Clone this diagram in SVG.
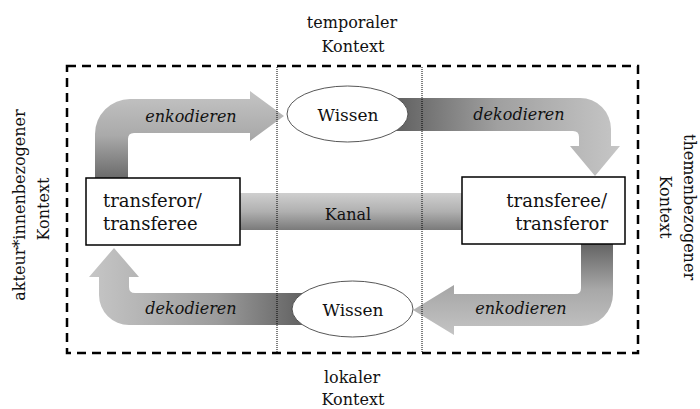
<svg xmlns="http://www.w3.org/2000/svg" width="700" height="409" viewBox="0 0 700 409">
<style>
  .t { font-family: "DejaVu Serif", "Liberation Serif", serif; fill: #111; }
  .box { fill: #fff; stroke: #000; stroke-width: 1.5; }
  .ell { fill: #fff; stroke: #444; stroke-width: 0.9; }
  .it { font-style: italic; font-size: 16px; }
  .lbl { font-size: 16px; }
  .bx { font-size: 18px; }
</style>
<defs>
  <linearGradient id="gA1" gradientUnits="userSpaceOnUse" x1="0" y1="180" x2="0" y2="91">
    <stop offset="0" stop-color="#686868"/>
    <stop offset="0.5" stop-color="#aaaaaa"/>
    <stop offset="1" stop-color="#c4c4c4"/>
  </linearGradient>
  <linearGradient id="gA2" gradientUnits="userSpaceOnUse" x1="398" y1="0" x2="620" y2="0">
    <stop offset="0" stop-color="#626262"/>
    <stop offset="0.45" stop-color="#a0a0a0"/>
    <stop offset="1" stop-color="#c6c6c6"/>
  </linearGradient>
  <linearGradient id="gA3" gradientUnits="userSpaceOnUse" x1="0" y1="244" x2="0" y2="335">
    <stop offset="0" stop-color="#646464"/>
    <stop offset="0.5" stop-color="#a8a8a8"/>
    <stop offset="1" stop-color="#c4c4c4"/>
  </linearGradient>
  <linearGradient id="gA4" gradientUnits="userSpaceOnUse" x1="302" y1="0" x2="89" y2="0">
    <stop offset="0" stop-color="#626262"/>
    <stop offset="0.4" stop-color="#9c9c9c"/>
    <stop offset="1" stop-color="#c6c6c6"/>
  </linearGradient>
  <linearGradient id="gK" x1="0" y1="0" x2="0" y2="1">
    <stop offset="0" stop-color="#cfcfcf"/>
    <stop offset="0.5" stop-color="#b0b0b0"/>
    <stop offset="1" stop-color="#7a7a7a"/>
  </linearGradient>
</defs>

<g id="frame">
  <rect x="67" y="66" width="571" height="287" fill="none" stroke="#000" stroke-width="2.5" stroke-dasharray="9 6"/>
</g>

<g id="connectors">
  <path id="arrow-enkodieren-top" fill="url(#gA1)" d="M 95 185 L 95 134 A 35 35 0 0 1 130 99 L 250 99 L 250 91 L 284 116 L 250 141 L 250 133 L 134 133 Q 128 133 128 139 L 128 185 Z"/>
  <path id="arrow-dekodieren-top" fill="url(#gA2)" d="M 380 98 L 580 98 A 31 31 0 0 1 611 129 L 611 146 L 620 146 L 595 176 L 570 146 L 579 146 L 579 137 Q 579 131 573 131 L 380 131 Z"/>
  <path id="arrow-enkodieren-bottom" fill="url(#gA3)" d="M 581 240 L 613 240 L 613 294 A 32 32 0 0 1 581 326 L 454 326 L 454 335 L 413 310 L 454 285 L 454 294 L 575 294 Q 581 294 581 288 Z"/>
  <path id="arrow-dekodieren-bottom" fill="url(#gA4)" d="M 320 293 L 135 293 Q 129 293 129 287 L 129 277 L 139 277 L 114 248 L 89 277 L 99 277 L 99 295 A 30 30 0 0 0 129 325 L 320 325 Z"/>
  <rect id="kanal" x="235" y="193" width="232" height="37" fill="url(#gK)"/>
  <line x1="277" y1="67" x2="277" y2="352" stroke="#000" stroke-width="1" stroke-dasharray="1 1"/>
  <line x1="422" y1="67" x2="422" y2="352" stroke="#000" stroke-width="1" stroke-dasharray="1 1"/>
</g>

<g id="node-left">
  <rect class="box" x="86" y="178" width="154" height="67"/>
  <text class="t bx" x="103" y="207">transferor/</text>
  <text class="t bx" x="103" y="230">transferee</text>
</g>
<g id="node-right">
  <rect class="box" x="462" y="177" width="163" height="67"/>
  <text class="t bx" x="607" y="207" text-anchor="end">transferee/</text>
  <text class="t bx" x="608" y="230" text-anchor="end">transferor</text>
</g>
<g id="node-wissen-top">
  <ellipse class="ell" cx="347.5" cy="114" rx="60.5" ry="28"/>
  <text class="t" x="348" y="120.5" font-size="17" text-anchor="middle">Wissen</text>
</g>
<g id="node-wissen-bottom">
  <ellipse class="ell" cx="352.5" cy="309" rx="60.5" ry="28"/>
  <text class="t" x="353" y="315.5" font-size="17" text-anchor="middle">Wissen</text>
</g>

<g id="labels">
  <text class="t lbl" x="348" y="220" text-anchor="middle">Kanal</text>
  <text class="t it" x="191" y="122" text-anchor="middle">enkodieren</text>
  <text class="t it" x="519" y="120" text-anchor="middle">dekodieren</text>
  <text class="t it" x="191" y="314" text-anchor="middle">dekodieren</text>
  <text class="t it" x="521" y="314" text-anchor="middle">enkodieren</text>
  <text class="t lbl" x="352" y="28" text-anchor="middle">temporaler</text>
  <text class="t lbl" x="353" y="52" text-anchor="middle">Kontext</text>
  <text class="t lbl" x="352" y="383" text-anchor="middle">lokaler</text>
  <text class="t lbl" x="353" y="405" text-anchor="middle">Kontext</text>
  <text class="t lbl" transform="translate(25,205) rotate(-90)" text-anchor="middle">akteur*innenbezogener</text>
  <text class="t lbl" transform="translate(49,209) rotate(-90)" text-anchor="middle">Kontext</text>
  <text class="t lbl" transform="translate(684,207) rotate(90)" text-anchor="middle">themenbezogener</text>
  <text class="t lbl" transform="translate(660,207) rotate(90)" text-anchor="middle">Kontext</text>
</g>
</svg>
